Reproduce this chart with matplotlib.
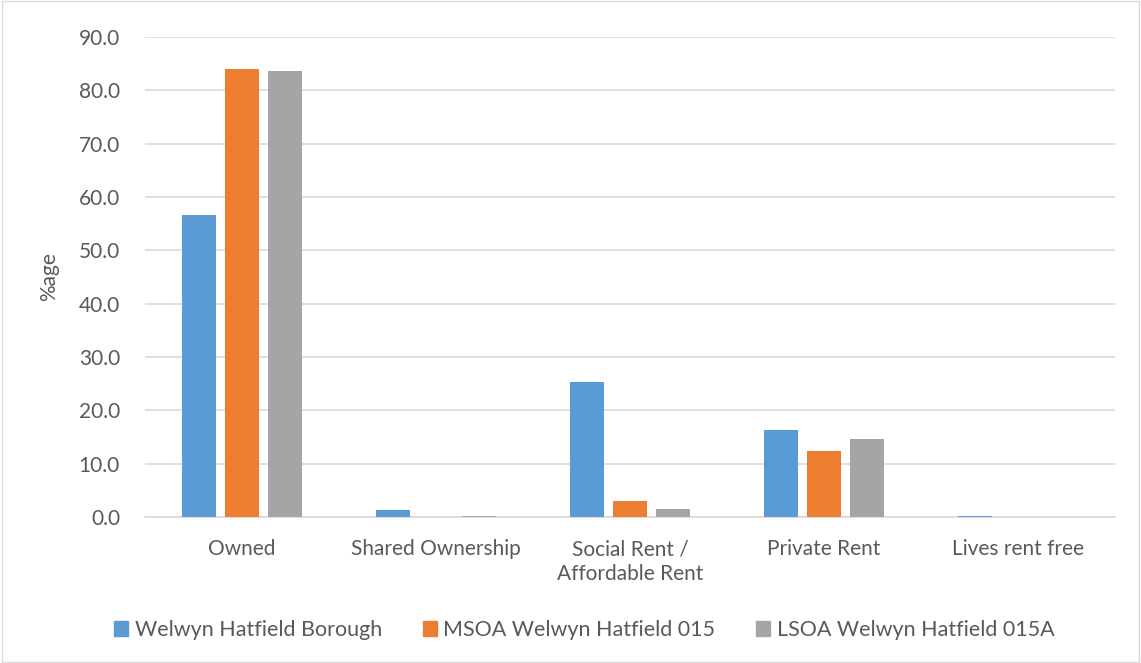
import numpy as np
import matplotlib
matplotlib.use("Agg")
import matplotlib.pyplot as plt
from matplotlib.patches import Rectangle

plt.rcParams['font.family'] = ['Lato', 'DejaVu Sans']

categories = ["Owned", "Shared Ownership", "Social Rent /\nAffordable Rent",
              "Private Rent", "Lives rent free"]
series = ["Welwyn Hatfield Borough", "MSOA Welwyn Hatfield 015",
          "LSOA Welwyn Hatfield 015A"]
borough = [56.6, 1.3, 25.3, 16.3, 0.1]
msoa = [84.0, 0.0, 3.0, 12.4, 0.0]
lsoa = [83.6, 0.2, 1.5, 14.6, 0.0]
colors = ["#5b9bd5", "#ed7d31", "#a5a5a5"]
yticks = np.arange(0, 91, 10)

txt = "#595959"
fig = plt.figure(figsize=(11.41, 6.63), dpi=100)
ax = fig.add_axes([145/1141, 1-517/663, 970/1141, 480/663])

x = np.arange(len(categories))
w = 0.178
for i, (vals, lab) in enumerate(zip([borough, msoa, lsoa], series)):
    ax.bar(x + (i-1)*0.222, vals, w, color=colors[i], label=lab, zorder=3)

ax.set_xlim(-0.5, len(categories)-0.5)
ax.set_ylim(0, 90)
ax.set_yticks(yticks)
ax.set_yticklabels([f"{v:.1f}" for v in yticks])
ax.set_xticks(x)
ax.set_xticklabels(categories, linespacing=1.3)
ax.grid(axis='y', color='#d9d9d9', linewidth=1.2, zorder=0)
for s in ['top', 'right', 'left']:
    ax.spines[s].set_visible(False)
ax.spines['bottom'].set_color('#d9d9d9')
ax.spines['bottom'].set_linewidth(1.2)
ax.tick_params(axis='both', length=0, labelsize=15, colors=txt)
ax.tick_params(axis='y', pad=18)
ax.tick_params(axis='x', pad=16)
ax.set_ylabel("%age", fontsize=15, color=txt, labelpad=14)

handles = [Rectangle((0, 0), 1, 1, color=c) for c in colors]
fig.legend(handles, series, loc='center', bbox_to_anchor=(0.512, 1-630/663),
           ncol=3, frameon=False, fontsize=15.5, labelcolor=txt,
           handlelength=0.65, handleheight=0.65, handletextpad=0.3,
           columnspacing=1.9)

fig.patches.append(Rectangle((0.002, 0.002), 0.996, 0.996, transform=fig.transFigure,
                             fill=False, edgecolor='#d9d9d9', linewidth=1))
fig.savefig("out.png", dpi=100)
